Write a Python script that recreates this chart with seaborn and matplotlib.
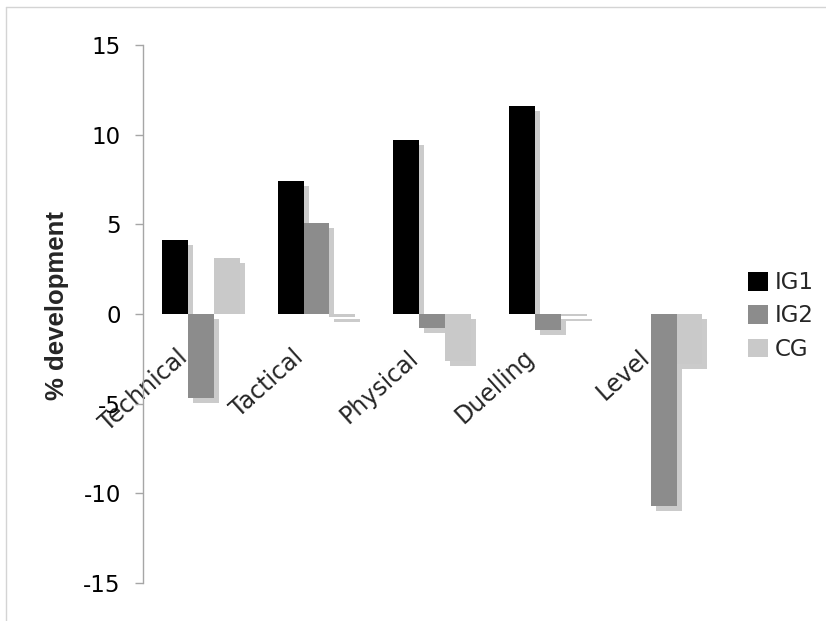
import matplotlib
matplotlib.use("Agg")
import matplotlib.pyplot as plt
from matplotlib.lines import Line2D
from matplotlib.patches import Patch, Rectangle
from matplotlib.transforms import ScaledTranslation
import pandas as pd
import seaborn as sns

# Change in performance per domain and group
categories = ["Technical", "Tactical", "Physical", "Duelling", "Level"]
groups = ["IG1", "IG2", "CG"]
ig1 = [4.1, 7.4, 9.7, 11.6, 0.0]
ig2 = [-4.7, 5.1, -0.8, -0.9, -10.7]
cg = [3.1, -0.15, -2.6, -0.1, -2.8]
yticks = [-15, -10, -5, 0, 5, 10, 15]

palette = {"IG1": "#000000", "IG2": "#8c8c8c", "CG": "#c9c9c9"}
shadow_color = "#cbcbcb"

df = pd.DataFrame({
    "domain": categories * 3,
    "group": ["IG1"] * 5 + ["IG2"] * 5 + ["CG"] * 5,
    "value": ig1 + ig2 + cg,
})

sns.set_theme(style="white")
plt.rcParams["font.family"] = ["DejaVu Sans"]
plt.rcParams["axes.unicode_minus"] = False

DPI = 100
fig = plt.figure(figsize=(8.26, 6.21), dpi=DPI)
ax = fig.add_axes([143 / 826, 1 - 583 / 621, 578.5 / 826, 538 / 621])

sns.barplot(data=df, x="domain", y="value", hue="group", order=categories,
            hue_order=groups, palette=palette, width=0.67, saturation=1,
            linewidth=0, errorbar=None, legend=False, ax=ax, zorder=3)

ax.set_xlim(-0.5, 4.5)
ax.set_ylim(-15, 15)

# drop shadows: shifted 5 px right and down, kept above the zero line for
# positive bars
px = 5 / DPI
shift_xy = ax.transData + ScaledTranslation(px, -px, fig.dpi_scale_trans)
shift_x = ax.transData + ScaledTranslation(px, 0, fig.dpi_scale_trans)
y0_disp = ax.transData.transform((0, 0))[1]
d = ax.transData.inverted().transform((0, y0_disp + 5))[1]
for bar in list(ax.patches):
    x, w, h = bar.get_x(), bar.get_width(), bar.get_height()
    if h == 0:
        continue
    if h > 0:
        top = max(h - d, 0)
        sh = Rectangle((x, 0), w, top, transform=shift_x)
    else:
        sh = Rectangle((x, 0), w, h, transform=shift_xy)
    sh.set_facecolor(shadow_color)
    sh.set_edgecolor("none")
    sh.set_zorder(2)
    ax.add_patch(sh)

ax.set_yticks(yticks)
ax.set_yticklabels([str(t) for t in yticks], fontsize=16.5)

for side in ["top", "right", "bottom"]:
    ax.spines[side].set_visible(False)
ax.spines["left"].set_color("#a6a6a6")
ax.spines["left"].set_linewidth(1.0)
ax.spines["bottom"].set_position(("data", 0))

ax.tick_params(axis="y", direction="out", length=6, width=1, color="#a6a6a6",
               pad=10, left=True, labelcolor="black")
ax.tick_params(axis="x", length=0, pad=29)
ax.set_xticks(range(len(categories)))
ax.set_xticklabels(categories, fontsize=17, rotation=42, ha="right",
                   va="center", rotation_mode="anchor")
lab_shift = ScaledTranslation(-0.17, 0, fig.dpi_scale_trans)
for lab in ax.get_xticklabels():
    lab.set_transform(lab.get_transform() + lab_shift)

ax.set_xlabel("")
ax.set_ylabel("% development", fontsize=18.5, fontweight="bold",
              family="Liberation Sans")
ax.yaxis.set_label_coords(-0.128, 0.515)

handles = [Patch(facecolor=palette[g], edgecolor="none") for g in groups]
ax.legend(handles, groups, loc="center left",
          bbox_to_anchor=(748 / 826, 1 - 316 / 621),
          bbox_transform=fig.transFigure, frameon=False, fontsize=16.5,
          handlelength=0.87, handleheight=0.87, handletextpad=0.3,
          labelspacing=0.45, borderpad=0, borderaxespad=0)

# light outer frame on top and left
fig.add_artist(Line2D([6 / 826, 1.0], [1 - 7 / 621, 1 - 7 / 621],
                      transform=fig.transFigure, color="#d4d4d4", lw=1))
fig.add_artist(Line2D([6 / 826, 6 / 826], [0, 1 - 7 / 621],
                      transform=fig.transFigure, color="#d4d4d4", lw=1))

fig.savefig("out.png", dpi=DPI)
